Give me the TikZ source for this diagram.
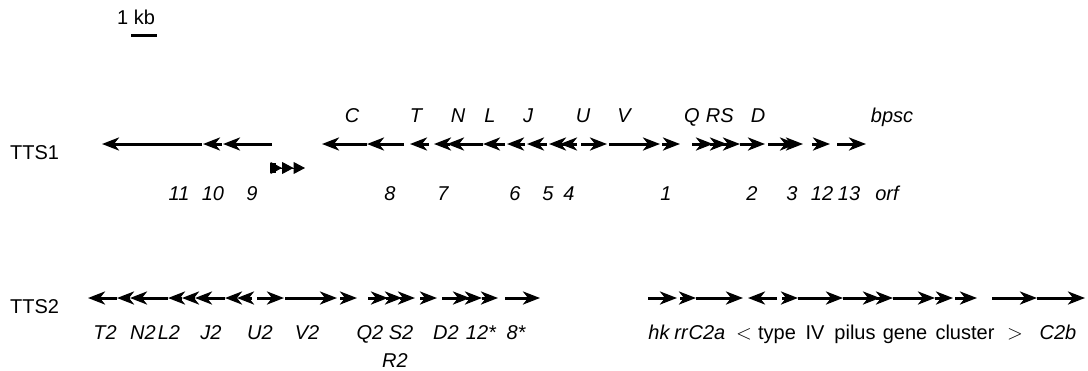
\documentclass[tikz,border=0pt]{standalone}
\usepackage{fontspec}
\setmainfont{Liberation Sans}
\usetikzlibrary{arrows.meta}
\begin{document}
\begin{tikzpicture}[x=1pt,y=-1pt,
  gene/.style={line width=3pt,-{Stealth[length=17pt,width=13pt,inset=5pt]}},
  lab/.style={font=\fontsize{20}{24}\selectfont\itshape,anchor=base,inner sep=0pt},
  txt/.style={font=\fontsize{20}{24}\selectfont,anchor=base,inner sep=0pt},
  bar/.style={line width=3pt}]
\useasboundingbox (0,0) rectangle (1088,370);
% scale bar
\node[txt,anchor=base west] (kb) at (117,24) {1 kb};
\coordinate (b1) at (131,35);
\coordinate (b2) at (157,35);
\draw[bar] (b1) -- (b2);
% row labels
\node[txt,anchor=base west] (tts1) at (10,159) {TTS1};
\node[txt,anchor=base west] (tts2) at (10,313) {TTS2};
% TTS1 genes
\foreach \a/\b in {202/102,222/203,272/223,367/322,404/367,429/410,450/434,483/447,505/483,525/507,547/527,565/549,577/560,
  581/607,609/660,662/680,692/713,710/727,722/740,740/765,768/797,786/803,812/830,837/866}
  \draw[gene] (\a,144) -- (\b,144);
% triple arrowhead
\fill (270,163) rectangle (276,173);
\draw[line width=1pt,-{Triangle[length=11.5pt,width=12pt]Triangle[length=11.5pt,width=12pt]Triangle[length=11.5pt,width=12pt]}] (270,168) -- (305,168);
% TTS1 labels
\foreach \t/\x [count=\i] in {C/352,T/416,N/458,L/490,J/528,U/583,V/624,Q/692,R/713,S/727,D/758,bpsc/892}
  \node[lab] (ta\i) at (\x,122) {\t};
\foreach \t/\x [count=\i] in {11/179,10/213,9/252,8/390,7/443,6/515,5/548,4/569,1/666,2/752,3/792,12/822,13/849,orf/887}
  \node[lab] (tb\i) at (\x,200) {\t};
% TTS2 genes
\foreach \a/\b in {117/88,130/117,168/130,182/168,195/182,225/195,237/225,252/237,
  257/284,285/337,340/357,368/388,386/402,400/415,420/437,442/470,466/482,482/498,505/540,
  648/677,680/696,696/743,777/748,782/798,798/843,843/880,876/893,893/935,935/953,955/977,992/1037,1037/1085}
  \draw[gene] (\a,298) -- (\b,298);
% TTS2 labels
\foreach \t/\x [count=\i] in {T2/105,N2/143,L2/169,J2/211,U2/260,V2/307,Q2/370,S2/401,D2/446,12*/481,8*/516,hk/659,rr/681,C2a/707,C2b/1058}
  \node[lab] (tc\i) at (\x,339) {\t};
\node[lab] (r2) at (395,367) {R2};
\node[txt] (lt) at (744,339) {$<$};
\node[txt] (w1) at (777,339) {type};
\node[txt] (w2) at (815,339) {IV};
\node[txt] (w3) at (855,339) {pilus};
\node[txt] (w4) at (905,339) {gene};
\node[txt] (w5) at (965,339) {cluster};
\node[txt] (gt) at (1015,339) {$>$};
\end{tikzpicture}
\end{document}
